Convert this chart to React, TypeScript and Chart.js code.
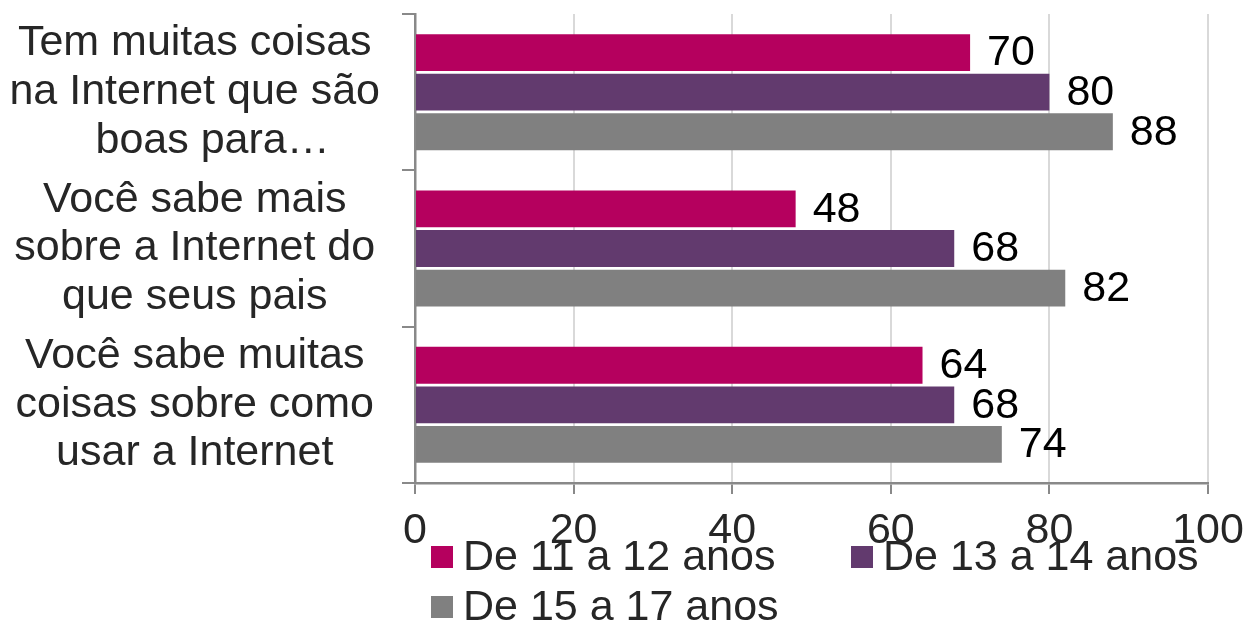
import React, { useEffect, useRef } from "react";
import { Chart, registerables } from "chart.js";

Chart.register(...registerables);

const categories: string[][] = [
  ["Tem muitas coisas", "na Internet que são", "   boas para…"],
  ["Você sabe mais", "sobre a Internet do", "que seus pais"],
  ["Você sabe muitas", "coisas sobre como", "usar a Internet"],
];
const seriesNames = ["De 11 a 12 anos", "De 13 a 14 anos", "De 15 a 17 anos"];
const series11a12 = [70, 48, 64];
const series13a14 = [80, 68, 68];
const series15a17 = [88, 82, 74];
const seriesColors = ["#B5005E", "#623A6E", "#808080"];
const xTicks = [0, 20, 40, 60, 80, 100];

const FONT = "'Liberation Sans', Arial, Helvetica, sans-serif";
const FS = 43;
const TEXT = "#262626";
const AXIS = "#898989";

const dataLabelPlugin = {
  id: "dataLabels",
  afterDatasetsDraw(chart: any) {
    const ctx = chart.ctx;
    ctx.save();
    ctx.font = `${FS}px ${FONT}`;
    ctx.fillStyle = "#000";
    ctx.textAlign = "left";
    ctx.textBaseline = "middle";
    chart.data.datasets.forEach((ds: any, di: number) => {
      const meta = chart.getDatasetMeta(di);
      meta.data.forEach((el: any, i: number) => {
        ctx.fillText(String(ds.data[i]), el.x + 17, el.y + 1);
      });
    });
    ctx.restore();
  },
};

const legendPlugin = {
  id: "excelLegend",
  afterDraw(chart: any) {
    const ctx = chart.ctx;
    const area = chart.chartArea;
    ctx.save();
    ctx.font = `${FS}px ${FONT}`;
    ctx.textAlign = "left";
    ctx.textBaseline = "middle";
    chart.data.datasets.forEach((ds: any, i: number) => {
      const col = i % 2;
      const row = Math.floor(i / 2);
      const x = area.left + 16 + col * 420;
      const yc = area.bottom + 74 + row * 50;
      ctx.fillStyle = ds.backgroundColor;
      ctx.fillRect(x, yc - 11, 22, 22);
      ctx.fillStyle = TEXT;
      ctx.fillText(ds.label, x + 32, yc + 1);
    });
    ctx.restore();
  },
};

export default function App() {
  const canvasRef = useRef<HTMLCanvasElement | null>(null);

  useEffect(() => {
    if (!canvasRef.current) return;
    const data = [series11a12, series13a14, series15a17];
    const chart = new Chart(canvasRef.current, {
      type: "bar",
      data: {
        labels: categories,
        datasets: seriesNames.map((name, i) => ({
          label: name,
          data: data[i],
          backgroundColor: seriesColors[i],
          borderWidth: 0,
          categoryPercentage: 0.76,
          barPercentage: 0.93,
        })),
      },
      options: {
        indexAxis: "y",
        animation: false,
        responsive: true,
        maintainAspectRatio: false,
        layout: { padding: { top: 14, right: 40, bottom: 0, left: 0 } },
        plugins: {
          legend: { display: false },
          tooltip: { enabled: false },
        },
        scales: {
          x: {
            type: "linear",
            min: 0,
            max: 100,
            afterBuildTicks: (scale: any) => {
              scale.ticks = xTicks.map((v) => ({ value: v }));
            },
            ticks: {
              color: TEXT,
              padding: 11,
              font: { family: FONT, size: FS },
              maxRotation: 0,
            },
            grid: {
              color: (c: any) => (c.tick && c.tick.value === 0 ? AXIS : "#d9d9d9"),
              lineWidth: 2,
              tickColor: AXIS,
              tickLength: 11,
              drawTicks: true,
            },
            border: { display: true, color: AXIS, width: 2.5 },
            afterFit: (scale: any) => {
              scale.height = 142;
              scale.paddingLeft = 0;
              scale.paddingRight = 0;
            },
          },
          y: {
            type: "category",
            offset: true,
            ticks: {
              color: TEXT,
              padding: 22,
              crossAlign: "center",
              font: { family: FONT, size: FS, lineHeight: 1.13 },
            },
            grid: {
              offset: true,
              drawOnChartArea: false,
              drawTicks: true,
              tickLength: 13,
              color: AXIS,
              lineWidth: 2,
            },
            border: { display: true, color: AXIS, width: 2.5 },
            afterFit: (scale: any) => {
              scale.width = 415;
              scale.paddingTop = 0;
              scale.paddingBottom = 0;
            },
          },
        },
      },
      plugins: [dataLabelPlugin, legendPlugin],
    } as any);
    return () => chart.destroy();
  }, []);

  return (
    <div style={{ position: "absolute", left: 0, top: 0, width: 1248, height: 625, background: "#fff" }}>
      <canvas ref={canvasRef} />
    </div>
  );
}
